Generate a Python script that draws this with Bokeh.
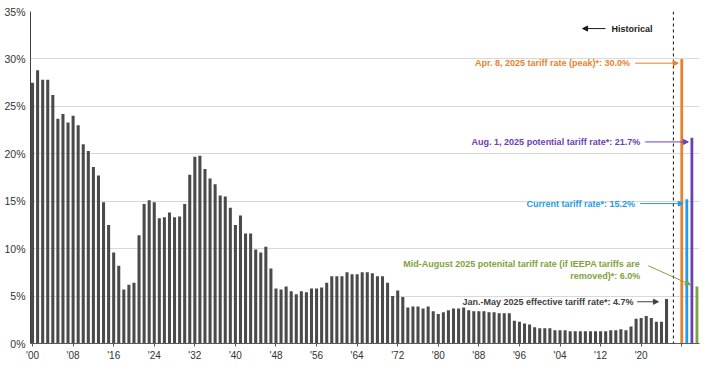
from bokeh.plotting import figure
from bokeh.models import (ColumnDataSource, Range1d, FixedTicker, PrintfTickFormatter,
                          Span, Arrow, NormalHead)
from bokeh.core.properties import value
from bokeh.embed import file_html
from bokeh.resources import INLINE

# ---------------- data ----------------
years = list(range(1900, 2026))
hist_rates = [
    27.5, 28.8, 27.8, 27.8, 26.2, 23.7, 24.2, 23.3, 24.0, 23.0,
    21.0, 20.3, 18.6, 17.7, 14.9, 12.5, 9.6, 8.2, 5.7, 6.2,
    6.4, 11.4, 14.7, 15.1, 14.9, 13.2, 13.3, 13.8, 13.3, 13.4,
    14.7, 17.8, 19.7, 19.8, 18.4, 17.4, 16.8, 15.6, 15.5, 14.3,
    12.5, 13.5, 11.6, 11.6, 9.9, 9.6, 10.2, 7.9, 5.8, 5.7,
    6.0, 5.5, 5.2, 5.5, 5.4, 5.8, 5.8, 5.9, 6.4, 7.1,
    7.1, 7.1, 7.5, 7.3, 7.3, 7.5, 7.5, 7.4, 7.1, 7.1,
    6.4, 5.0, 5.6, 4.9, 3.8, 3.9, 3.9, 3.7, 3.9, 3.4,
    3.1, 3.3, 3.5, 3.7, 3.7, 3.8, 3.5, 3.4, 3.4, 3.4,
    3.3, 3.3, 3.2, 3.2, 3.2, 2.4, 2.3, 2.1, 2.0, 1.7,
    1.6, 1.6, 1.6, 1.4, 1.4, 1.4, 1.3, 1.3, 1.3, 1.3,
    1.3, 1.3, 1.3, 1.3, 1.4, 1.4, 1.5, 1.4, 1.8, 2.6,
    2.7, 2.9, 2.7, 2.3, 2.3, 4.7,
]

proj_labels = [
    "Apr. 8, 2025 tariff rate (peak)*",
    "Current tariff rate*",
    "Aug. 1, 2025 potential tariff rate*",
    "Mid-August 2025 potenital tariff rate (if IEEPA tariffs are\nremoved)*",
]
proj_rates = [30.0, 15.2, 21.7, 6.0]
proj_colors = ["#E8812C", "#1E9BE9", "#6B40B4", "#7FA23A"]

hist_label = "Jan.-May 2025 effective tariff rate*"
hist_color = "#404040"

x_tick_years = list(range(1900, 2021, 8))
x_tick_labels = ["'00", "'08", "'16", "'24", "'32", "'40", "'48", "'56",
                 "'64", "'72", "'80", "'88", "'96", "'04", "'12", "'20"]
y_ticks = [0, 5, 10, 15, 20, 25, 30, 35]

FONT = "Liberation Sans"

# ---------------- figure ----------------
p = figure(width=712, height=367,
           x_range=Range1d(1899.6, 2031.5), y_range=Range1d(0, 35),
           output_backend="svg", toolbar_location=None,
           min_border_left=30, min_border_right=13,
           min_border_top=11, min_border_bottom=24)
p.outline_line_color = None
p.background_fill_color = "white"
p.border_fill_color = "white"

p.xgrid.grid_line_color = None
p.ygrid.grid_line_color = "#d9d9d9"
p.ygrid.grid_line_width = 1
p.ygrid.ticker = FixedTicker(ticks=y_ticks)

# historical bars
p.vbar(x=years, top=hist_rates, width=0.6, bottom=0,
       fill_color="#4a4a4a", line_color=None)

# projected bars
last = years[-1]
proj_x = [last + 3 + i for i in range(len(proj_rates))]
p.vbar(x=proj_x, top=proj_rates, width=0.55, bottom=0,
       fill_color=proj_colors, line_color=None)

# divider
divider_x = last + 1.35
p.add_layout(Span(location=divider_x, dimension="height", line_color="#111111",
                  line_width=1, line_dash="3 3"))

# ---------------- annotations ----------------
tx, ty, tt, tc = [], [], [], []

def add_arrow(x0, y0, x1, y1, c):
    p.add_layout(Arrow(end=NormalHead(size=5, fill_color=c, line_color=c, line_width=1),
                       x_start=x0, y_start=y0, x_end=x1, y_end=y1,
                       line_color=c, line_width=1))

for i, (lab, r, c, bx) in enumerate(zip(proj_labels, proj_rates, proj_colors, proj_x)):
    txt = f"{lab}: {r:.1f}%"
    if "\n" in lab:
        text_x = bx - 11.2
        tx.append(text_x); ty.append(r + 1.7); tt.append(txt); tc.append(c)
        add_arrow(text_x + 1.6, r + 2.2, bx - 1.3, r + 0.2, c)
    else:
        ay = r - 0.45
        x_end = bx - 0.7
        x_start = x_end - 8.5
        tx.append(x_start - 1.0); ty.append(ay); tt.append(txt); tc.append(c)
        add_arrow(x_start, ay, x_end, ay, c)

# Jan.-May 2025 annotation
hr = hist_rates[-1]
g_end = last - 1.6
g_start = g_end - 4.2
tx.append(g_start - 0.7); ty.append(hr - 0.3)
tt.append(f"{hist_label}: {hr:.1f}%"); tc.append(hist_color)
add_arrow(g_start, hr - 0.3, g_end, hr - 0.3, hist_color)

src = ColumnDataSource(dict(x=tx, y=ty, text=tt, color=tc))
p.text(x="x", y="y", text="text", text_color="color", source=src,
       text_font=value(FONT), text_font_size="9px", text_font_style="bold",
       text_align="right", text_baseline="middle", text_line_height=1.2)

# Historical marker
hist_y = 33.2
p.text(x=[divider_x - 12.2], y=[hist_y], text=["Historical"],
       text_font=value(FONT), text_font_size="9px", text_font_style="bold",
       text_color="#1a1a1a", text_align="left", text_baseline="middle")
add_arrow(divider_x - 13.4, hist_y, divider_x - 17.9, hist_y, "#1a1a1a")

# ---------------- axes ----------------
p.xaxis.ticker = FixedTicker(ticks=x_tick_years + [proj_x[0]])
overrides = {yr: lab for yr, lab in zip(x_tick_years, x_tick_labels)}
overrides[proj_x[0]] = ""
p.xaxis.major_label_overrides = overrides
p.xaxis.axis_line_color = "#595959"
p.xaxis.major_tick_line_color = "#595959"
p.xaxis.major_tick_out = 3
p.xaxis.major_tick_in = 0
p.xaxis.minor_tick_line_color = None
p.xaxis.major_label_standoff = 3
p.xaxis.major_label_text_font = FONT
p.xaxis.major_label_text_font_size = "10px"
p.xaxis.major_label_text_color = "#333333"

p.yaxis.ticker = FixedTicker(ticks=y_ticks)
p.yaxis.formatter = PrintfTickFormatter(format="%d%%")
p.yaxis.axis_line_color = "#404040"
p.yaxis.major_tick_line_color = None
p.yaxis.major_tick_out = 0
p.yaxis.major_tick_in = 0
p.yaxis.minor_tick_line_color = None
p.yaxis.major_label_standoff = 5
p.yaxis.major_label_text_font = FONT
p.yaxis.major_label_text_font_size = "10.5px"
p.yaxis.major_label_text_color = "#333333"

open("out.html", "w").write(file_html(p, INLINE))
